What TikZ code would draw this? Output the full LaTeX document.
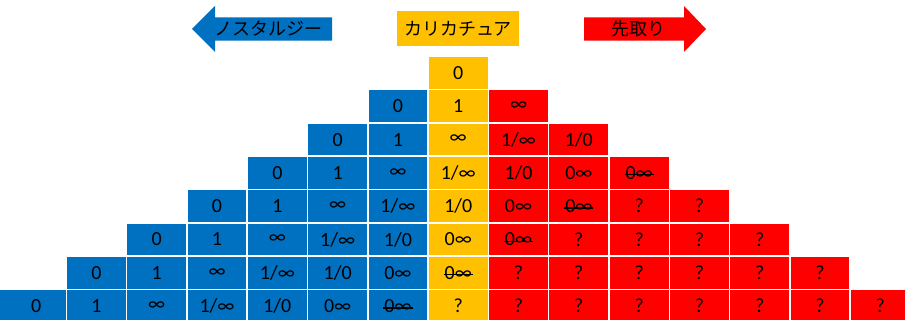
\documentclass[tikz,border=0pt]{standalone}
\usepackage{fontspec}
\setmainfont{Carlito}
\newfontfamily\jpfont{Noto Sans CJK JP}
\definecolor{cblue}{HTML}{0070C0}
\definecolor{cyel}{HTML}{FFC000}
\definecolor{cred}{HTML}{FF0000}
\newcommand\strk[1]{\setbox0\hbox{#1}\rlap{\kern-0.05em\rule[0.2em]{\dimexpr\wd0+0.1em\relax}{0.07em}}\box0}
\newcommand\cellval[1]{\ifcase#1 0\or 1\or ∞\or 1/∞\or 1/0\or 0∞\or \strk{0∞}\else ?\fi}
\tikzset{
  cell/.style={draw=white, line width=1.5pt, minimum width=60.3pt, minimum height=33.3pt,
    inner sep=0pt, font=\fontsize{20}{24}\selectfont, text=black},
  lab/.style={font=\jpfont\fontsize{18}{22}\selectfont, text=black, inner sep=0pt}
}
\begin{document}
\begin{tikzpicture}[x=1pt,y=-1pt]
\useasboundingbox (0,0) rectangle (905,320);
% header
\fill[cblue] (192,29) -- (215,6) -- (215,17.3) -- (332,17.3) -- (332,40.7) -- (215,40.7) -- (215,52) -- cycle;
\node[lab] (nost) at (268,29) {ノスタルジー};
\fill[cyel] (397,11) rectangle (519,46);
\node[lab] (cari) at (458,28.5) {カリカチュア};
\fill[cred] (584,17.3) -- (684,17.3) -- (684,6) -- (706,29) -- (684,52) -- (684,40.7) -- (584,40.7) -- cycle;
\node[lab] (saki) at (638,29) {先取り};
% grid
\foreach \r in {0,...,7}{
  \pgfmathtruncatemacro\cmin{7-\r}
  \pgfmathtruncatemacro\cmax{7+\r}
  \foreach \c in {\cmin,...,\cmax}{
    \pgfmathtruncatemacro\idx{\c-7+\r}
    \ifnum\c<7 \def\col{cblue}\else\ifnum\c=7 \def\col{cyel}\else\def\col{cred}\fi\fi
    \node[cell, fill=\col] (c\r-\c) at ({36.15+60.3*\c},{73+33.3*\r}) {\cellval{\idx}};
  }
}
\fill[cblue] (-2,290) rectangle (6.8,322);
\end{tikzpicture}
\end{document}
